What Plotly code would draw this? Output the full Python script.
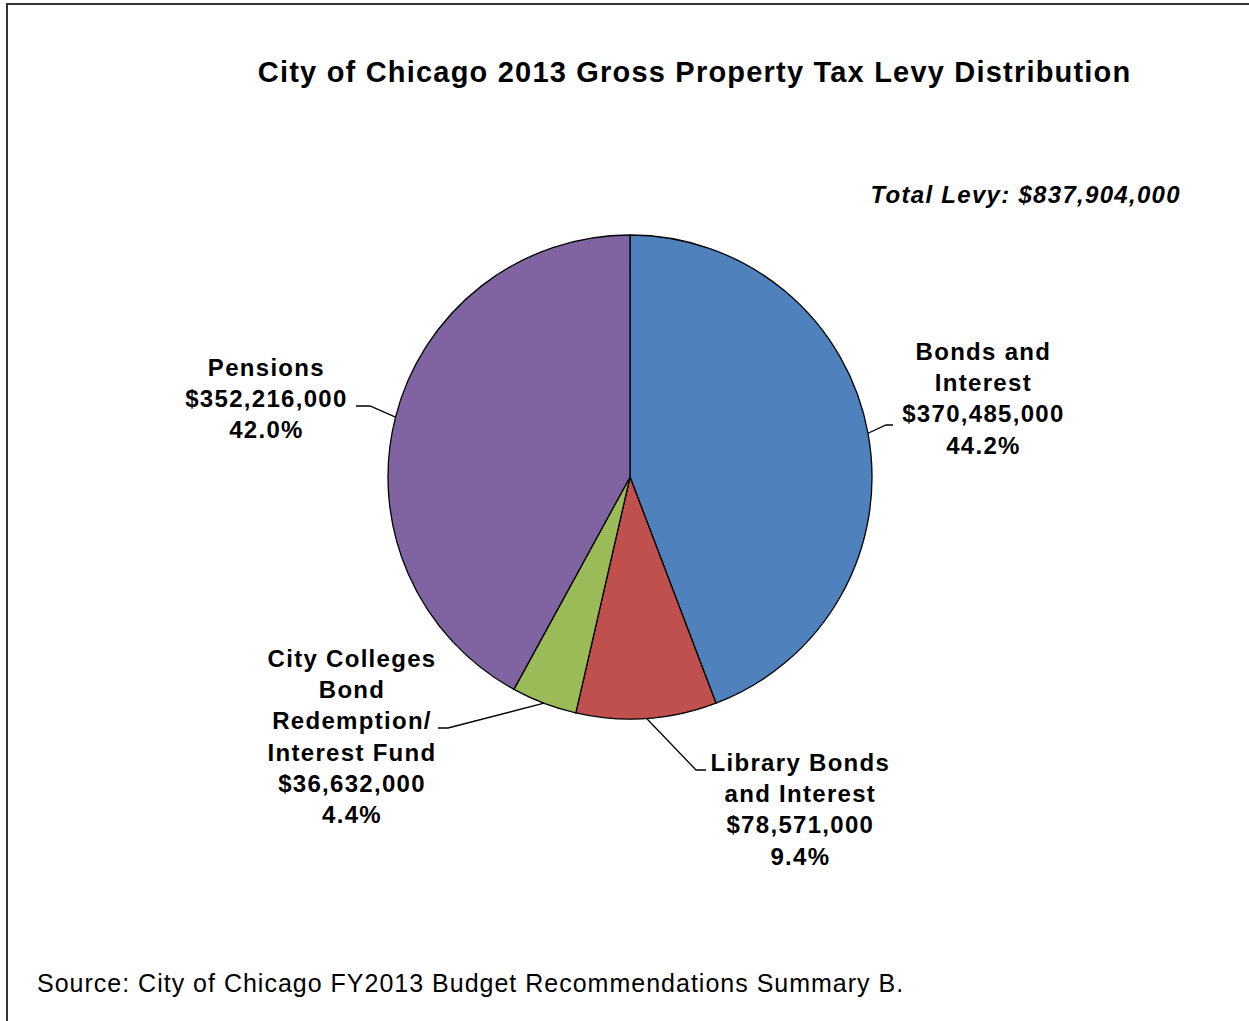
import math
import plotly.graph_objects as go

W, H = 1249, 1021

categories = ["Bonds and Interest", "Library Bonds and Interest",
              "City Colleges Bond Redemption/ Interest Fund", "Pensions"]
values = [370485000, 78571000, 36632000, 352216000]
label_text = [
    "Bonds and<br>Interest<br>$370,485,000<br>44.2%",
    "Library Bonds<br>and Interest<br>$78,571,000<br>9.4%",
    "City Colleges<br>Bond<br>Redemption/<br>Interest Fund<br>$36,632,000<br>4.4%",
    "Pensions<br>$352,216,000<br>42.0%",
]
colors = ["#4F81BD", "#C0504D", "#9BBB59", "#8064A2"]
title_text = "City of Chicago 2013 Gross Property Tax Levy Distribution"
total_text = "Total Levy: $837,904,000"
source_text = "Source: City of Chicago FY2013 Budget Recommendations Summary B."

# layout (pixels)
CX, CY, R = 630, 477, 242
label_pos = [(983, 398), (800, 809), (352, 736), (266, 398)]
elbows = [((886, 425), (893, 425)), ((696, 770), (706, 770)),
          ((448, 728), (438, 728)), ((370, 406), (356, 406))]
FONT = "Liberation Sans, Arial"


def fx(x):
    return x / W


def fy(y):
    return 1 - y / H


fig = go.Figure(go.Pie(
    labels=categories, values=values, sort=False, direction="clockwise",
    rotation=0, textinfo="none", hoverinfo="skip",
    marker=dict(colors=colors, line=dict(color="black", width=1.3)),
    domain=dict(x=[fx(CX - R), fx(CX + R)], y=[fy(CY + R), fy(CY - R)]),
    showlegend=False,
))

shapes = []
annotations = []
total = sum(values)
cum = 0
for i, v in enumerate(values):
    mid = (cum + v / 2) / total * 2 * math.pi
    cum += v
    ex = CX + R * math.sin(mid)
    ey = CY - R * math.cos(mid)
    (bx, by), (hx, hy) = elbows[i]
    path = f"M {fx(ex)} {fy(ey)} L {fx(bx)} {fy(by)} L {fx(hx)} {fy(hy)}"
    shapes.append(dict(type="path", xref="paper", yref="paper", path=path,
                       line=dict(color="black", width=1.3)))
    lx, ly = label_pos[i]
    annotations.append(dict(x=fx(lx), y=fy(ly), xref="paper", yref="paper",
                            text="<b>" + label_text[i] + "</b>", showarrow=False,
                            xanchor="center", yanchor="middle", align="center",
                            font=dict(size=24, color="black", family=FONT)))

annotations.append(dict(x=fx(694), y=fy(72), xref="paper", yref="paper",
                        text="<b>" + title_text + "</b>", showarrow=False,
                        xanchor="center", yanchor="middle",
                        font=dict(size=29, color="black", family=FONT)))
annotations.append(dict(x=fx(1026), y=fy(195), xref="paper", yref="paper",
                        text="<b><i>" + total_text + "</i></b>", showarrow=False,
                        xanchor="center", yanchor="middle",
                        font=dict(size=24, color="black", family=FONT)))
annotations.append(dict(x=fx(470), y=fy(983), xref="paper", yref="paper",
                        text=source_text, showarrow=False,
                        xanchor="center", yanchor="middle",
                        font=dict(size=25, color="black", family=FONT)))

# outer chart border (left and top visible)
shapes.append(dict(type="path", xref="paper", yref="paper",
                   path=f"M {fx(7)} {fy(1030)} L {fx(7)} {fy(4)} L {fx(1260)} {fy(4)}",
                   line=dict(color="#333333", width=2)))

fig.update_layout(
    width=W, height=H, margin=dict(l=0, r=0, t=0, b=0),
    paper_bgcolor="white", plot_bgcolor="white",
    shapes=shapes, annotations=annotations,
)

post = """
document.body.style.margin='0';
document.body.style.overflow='hidden';
var sp=['1.3px','1.3px','1.3px','1.3px','1.2px','1.3px','1.0px'];
var t=document.querySelectorAll('g.annotation text.annotation-text');
for(var i=0;i<t.length && i<sp.length;i++){t[i].style.letterSpacing=sp[i];}
"""
fig.write_html("out.html", post_script=post, config={"displayModeBar": False})
